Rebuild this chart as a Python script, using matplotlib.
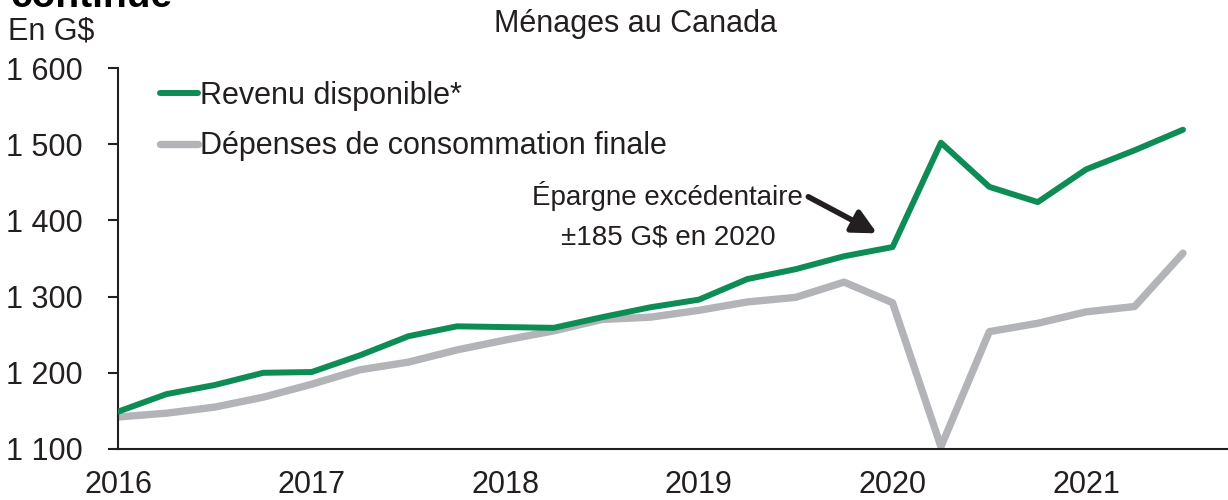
import matplotlib
matplotlib.use("Agg")
import matplotlib.pyplot as plt
from matplotlib.ticker import FuncFormatter

plt.rcParams['font.family'] = ['Liberation Sans', 'DejaVu Sans']

# quarterly data, 2016 T1 to 2021 T3 (G$)
quarters = list(range(23))
revenu = [1149, 1172, 1184, 1200, 1201, 1223, 1248, 1261, 1260, 1259, 1273, 1286,
          1296, 1323, 1336, 1353, 1365, 1502, 1444, 1424, 1467, 1492, 1519]
depenses = [1142, 1147, 1155, 1168, 1185, 1204, 1214, 1230, 1243, 1255, 1270, 1273,
            1282, 1293, 1299, 1319, 1292, 1103, 1254, 1265, 1280, 1287, 1357]
year_ticks = [0, 4, 8, 12, 16, 20]
year_labels = ['2016', '2017', '2018', '2019', '2020', '2021']
y_ticks = [1100, 1200, 1300, 1400, 1500, 1600]

GREEN = '#0E8C55'
GRAY = '#B3B4B8'
INK = '#231F20'
FS = 22

fig = plt.figure(figsize=(12.28, 5.0), dpi=100)
ax = fig.add_axes([0.0961, 0.102, 0.9039, 0.762])

ax.plot(quarters, revenu, color=GREEN, lw=4.3, solid_capstyle='round',
        solid_joinstyle='round', label='Revenu disponible*', zorder=3)
ax.plot(quarters, depenses, color=GRAY, lw=5.3, solid_capstyle='round',
        solid_joinstyle='round', label='Dépenses de consommation finale', zorder=2)

ax.set_xlim(0, 22.93)
ax.set_ylim(1100, 1600)
ax.set_yticks(y_ticks)
ax.yaxis.set_major_formatter(FuncFormatter(lambda v, p: f"{int(v):,}".replace(',', ' ')))
ax.set_xticks(year_ticks)
ax.set_xticklabels(year_labels)

for s in ['top', 'right']:
    ax.spines[s].set_visible(False)
for s in ['left', 'bottom']:
    ax.spines[s].set_color(INK)
    ax.spines[s].set_linewidth(1.5)
ax.tick_params(axis='y', direction='out', length=7.2, width=1.5, color=INK,
               pad=18, labelsize=FS, labelcolor=INK)
ax.tick_params(axis='x', length=0, pad=15, labelsize=FS, labelcolor=INK)

leg = ax.legend(loc='upper left', bbox_to_anchor=(0.038, 0.967), frameon=False,
                fontsize=FS, handlelength=1.25, handletextpad=0.05,
                labelspacing=0.68, borderpad=0, borderaxespad=0)
for t in leg.get_texts():
    t.set_color(INK)

# annotation
ax.text(11.36, 1420, 'Épargne excédentaire', ha='center', va='baseline',
        fontsize=20, color=INK)
ax.text(11.36, 1368, '±185 G$ en 2020', ha='center', va='baseline',
        fontsize=20, color=INK)
ax.annotate('', xy=(15.68, 1383), xytext=(14.26, 1431),
            arrowprops=dict(arrowstyle='-|>', lw=4, color=INK,
                            mutation_scale=36, shrinkA=0, shrinkB=0))

fig.text(8 / 1228, 1 - 40 / 500, 'En G$', ha='left', va='baseline',
         fontsize=FS, color=INK)
fig.text(635 / 1228, 1 - 32 / 500, 'Ménages au Canada', ha='center',
         va='baseline', fontsize=FS, color=INK)
fig.text(10 / 1228, 1 - 7 / 500, 'continue', ha='left', va='baseline',
         fontsize=28, fontweight='bold', color='black')

fig.savefig('out.png', dpi=100)
